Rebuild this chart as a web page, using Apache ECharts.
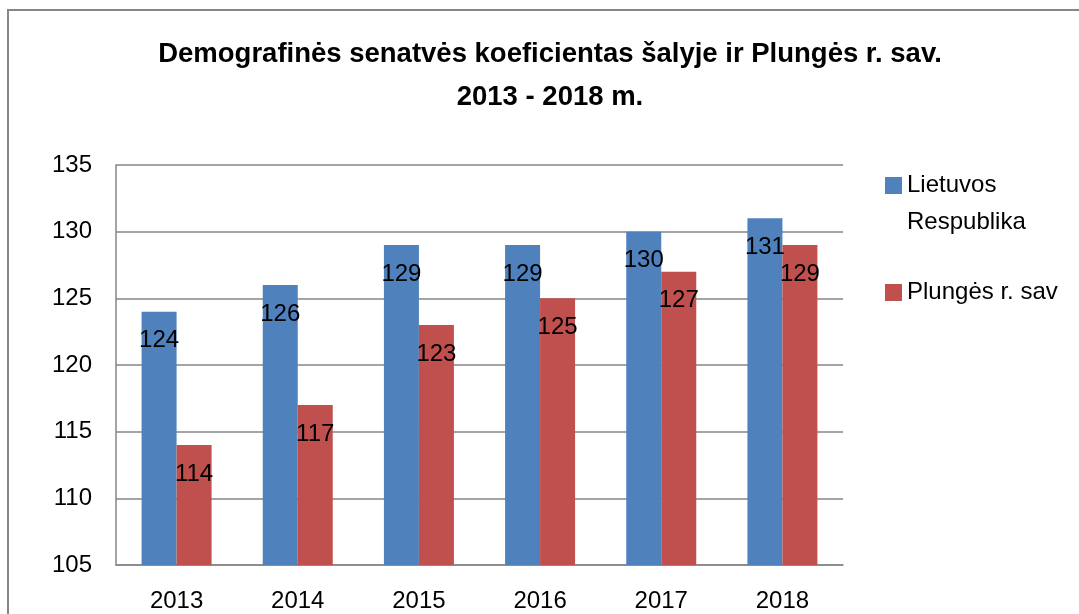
<!DOCTYPE html>
<html>
<head>
<meta charset="utf-8">
<script src="https://cdn.jsdelivr.net/npm/echarts@6/dist/echarts.min.js"></script>
<style>
  html, body { margin: 0; padding: 0; background: #fff; }
  #chart { width: 1079px; height: 614px; }
</style>
</head>
<body>
<div id="chart"></div>
<script>
// Demografinės senatvės koeficientas 2013 - 2018 m.
const years = ['2013', '2014', '2015', '2016', '2017', '2018'];
const lietuvos = [124, 126, 129, 129, 130, 131];
const plunges = [114, 117, 123, 125, 127, 129];

const seriesNames = ['Lietuvos Respublika', 'Plungės r. sav'];
const colors = ['#4F81BD', '#C0504D'];
const font = 'Liberation Sans, Arial, sans-serif';

const chart = echarts.init(document.getElementById('chart'));

const labelStyle = {
  show: true,
  position: 'insideTop',
  distance: 17,
  color: '#000',
  fontSize: 24,
  fontFamily: font
};

const option = {
  animation: false,
  textStyle: { fontFamily: font },
  title: {
    text: 'Demografinės senatvės koeficientas šalyje ir Plungės r. sav.\n2013 - 2018 m.',
    left: 550,
    top: 33,
    padding: 0,
    textAlign: 'center',
    textStyle: {
      fontSize: 27.5,
      fontWeight: 'bold',
      color: '#000',
      lineHeight: 43,
      fontFamily: font
    }
  },
  graphic: [{
    type: 'rect',
    shape: { x: 8, y: 10, width: 1090, height: 620 },
    style: { fill: 'none', stroke: '#868686', lineWidth: 2 },
    silent: true
  }],
  legend: [
    {
      // empty first line keeps the icon level with "Lietuvos"
      data: [seriesNames[0]],
      orient: 'vertical',
      left: 885,
      top: 130,
      padding: 0,
      itemWidth: 17,
      itemHeight: 17,
      icon: 'rect',
      formatter: () => '\nLietuvos\nRespublika',
      textStyle: { fontSize: 24, color: '#000', lineHeight: 37, fontFamily: font }
    },
    {
      data: [seriesNames[1]],
      orient: 'vertical',
      left: 885,
      top: 274,
      padding: 0,
      itemWidth: 17,
      itemHeight: 17,
      icon: 'rect',
      textStyle: { fontSize: 24, color: '#000', lineHeight: 37, fontFamily: font }
    }
  ],
  grid: {
    left: 116,
    right: 236,
    top: 165,
    bottom: 49,
    containLabel: false
  },
  xAxis: {
    type: 'category',
    data: years,
    axisLine: { show: true, lineStyle: { color: '#868686', width: 1.5 } },
    axisTick: { show: false },
    axisLabel: { color: '#000', fontSize: 24, margin: 24, fontFamily: font }
  },
  yAxis: {
    type: 'value',
    min: 105,
    max: 135,
    interval: 5,
    axisLine: { show: true, lineStyle: { color: '#868686', width: 1.5 } },
    axisTick: { show: false },
    axisLabel: { color: '#000', fontSize: 24, margin: 24, fontFamily: font },
    splitLine: { lineStyle: { color: '#868686', width: 1.5 } }
  },
  series: [
    {
      name: seriesNames[0],
      type: 'bar',
      data: lietuvos,
      barWidth: 35,
      barGap: '0%',
      itemStyle: { color: colors[0] },
      label: labelStyle
    },
    {
      name: seriesNames[1],
      type: 'bar',
      data: plunges,
      barWidth: 35,
      barGap: '0%',
      itemStyle: { color: colors[1] },
      label: labelStyle
    }
  ]
};

chart.setOption(option);
</script>
</body>
</html>
